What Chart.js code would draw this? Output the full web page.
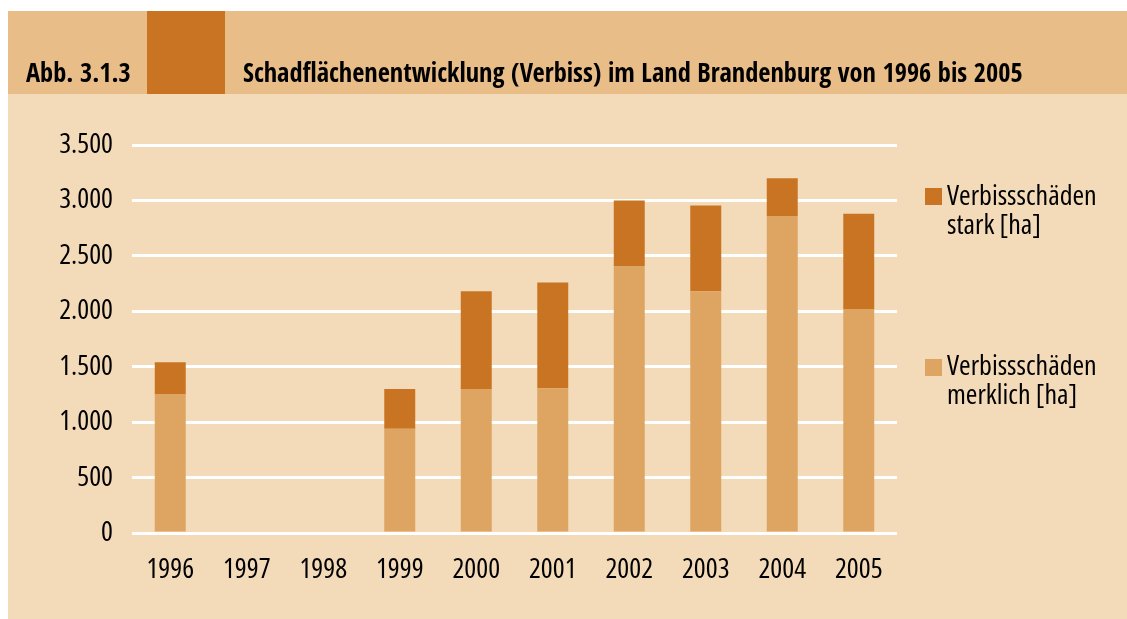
<!DOCTYPE html>
<html>
<head>
<meta charset="utf-8">
<script src="https://cdn.jsdelivr.net/npm/chart.js@4.4.1/dist/chart.umd.min.js"></script>
<style>
  html, body { margin: 0; padding: 0; background: #ffffff; }
  #page { position: relative; width: 1127px; height: 619px; overflow: hidden; }
  .abs { position: absolute; }
  #header { left: 8px; top: 11px; width: 1119px; height: 83px; background: #e8bd88; }
  #block { left: 147px; top: 11px; width: 78px; height: 83px; background: #c97423; }
  #panel { left: 8px; top: 94px; width: 1119px; height: 525px; background: #f3dab9; }
  .htext { font-family: "Open Sans Condensed", "Open Sans", sans-serif; font-stretch: condensed;
           font-weight: bold; font-size: 26.4px; line-height: 26.4px; color: #000; white-space: nowrap; z-index: 3; }
  #c { position: absolute; left: 0; top: 0; z-index: 2; }
  .leg { font-family: "Open Sans", sans-serif; font-stretch: condensed;
         font-size: 28px; line-height: 29px; color: #000; white-space: nowrap; z-index: 3; }
  .sw { width: 17px; height: 17px; z-index: 3; }
</style>
</head>
<body>
<div id="page">
  <div id="header" class="abs"></div>
  <div id="block" class="abs"></div>
  <div id="panel" class="abs"></div>
  <div class="abs htext" style="left:26px; top:58.5px;">Abb. 3.1.3</div>
  <div class="abs htext" style="left:243px; top:58.5px;">Schadflächenentwicklung (Verbiss) im Land Brandenburg von 1996 bis 2005</div>
  <canvas id="c" width="1127" height="619"></canvas>
  <div class="abs sw" style="left:925px; top:188px; background:#c97423;"></div>
  <div class="abs leg" style="left:947px; top:179.6px;">Verbissschäden<br>stark [ha]</div>
  <div class="abs sw" style="left:925px; top:359px; background:#dea462;"></div>
  <div class="abs leg" style="left:947px; top:349.6px;">Verbissschäden<br>merklich [ha]</div>
</div>
<script>
const categories = ['1996','1997','1998','1999','2000','2001','2002','2003','2004','2005'];
const merklich = [1250, null, null, 940, 1300, 1305, 2405, 2180, 2860, 2020];
const stark    = [290,  null, null, 360,  880,  955,  595,  775,  340,  860];
const yTickValues = [0, 500, 1000, 1500, 2000, 2500, 3000, 3500];
const yTickLabels = ['0','500','1.000','1.500','2.000','2.500','3.000','3.500'];

// 'condensed' goes into the canvas font shorthand as the font-stretch keyword
const TICK_FONT = { family: '"Open Sans", sans-serif', size: 28, weight: 'condensed' };

new Chart(document.getElementById('c'), {
  type: 'bar',
  data: {
    labels: categories,
    datasets: [
      { label: 'Verbissschäden merklich [ha]', data: merklich, backgroundColor: '#dea462', borderWidth: 0,
        categoryPercentage: 1, barPercentage: 0.405 },
      { label: 'Verbissschäden stark [ha]', data: stark, backgroundColor: '#c97423', borderWidth: 0,
        categoryPercentage: 1, barPercentage: 0.405 }
    ]
  },
  options: {
    responsive: false,
    animation: false,
    devicePixelRatio: 1,
    layout: { padding: { left: 0, right: 230, top: 145, bottom: 0 } },
    plugins: { legend: { display: false }, title: { display: false }, tooltip: { enabled: false } },
    scales: {
      x: {
        stacked: true,
        grid: { display: false, drawTicks: false },
        border: { display: false },
        ticks: { color: '#000', font: TICK_FONT, padding: 20, maxRotation: 0, autoSkip: false },
        afterFit: (s) => { s.height = 86; }
      },
      y: {
        stacked: true,
        min: 0, max: 3500,
        afterBuildTicks: (s) => { s.ticks = yTickValues.map(v => ({ value: v })); },
        grid: { color: '#ffffff', lineWidth: 3, drawTicks: false },
        border: { display: false },
        ticks: { color: '#000', font: TICK_FONT, padding: 19,
                 callback: (v, i) => yTickLabels[i] },
        afterFit: (s) => { s.width = 132; }
      }
    }
  }
});
</script>
</body>
</html>
